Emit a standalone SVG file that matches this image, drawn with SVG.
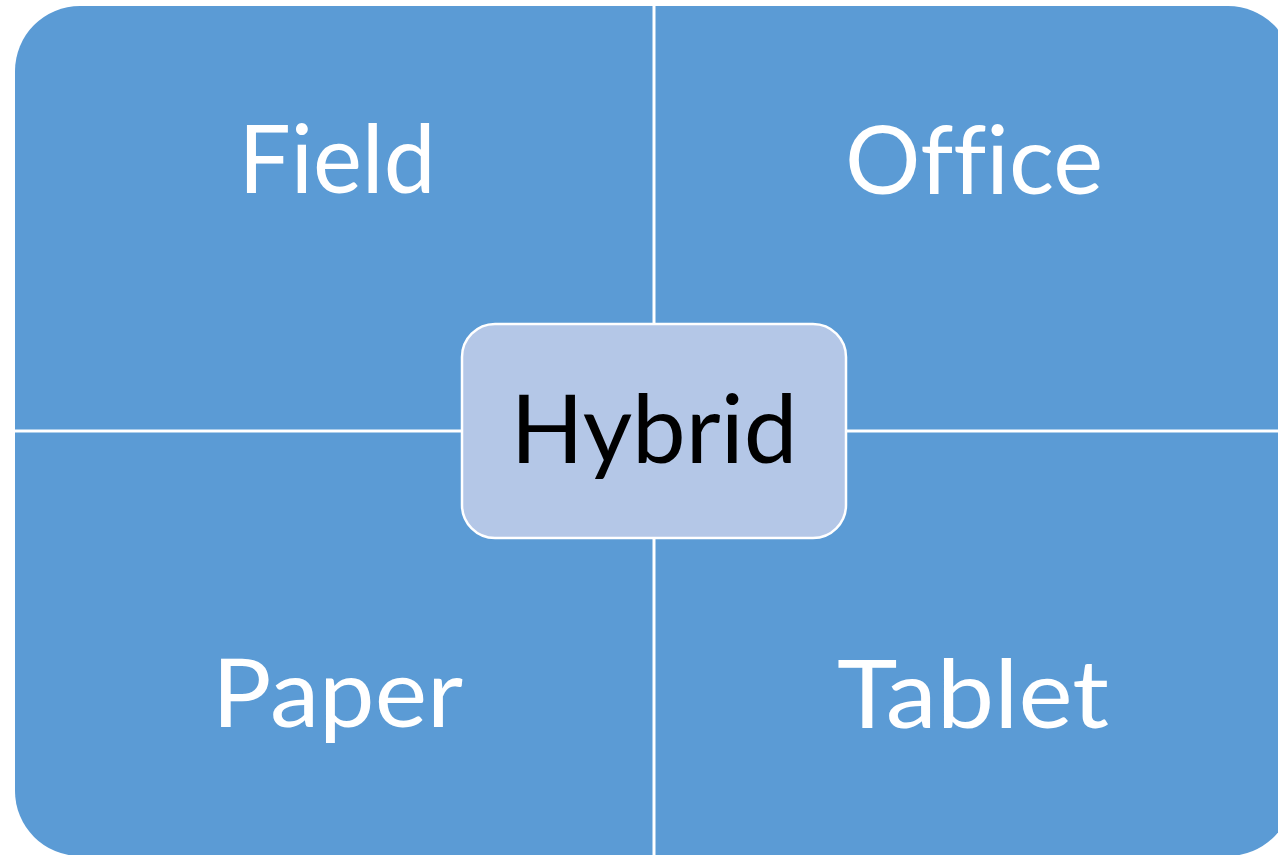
<svg xmlns="http://www.w3.org/2000/svg" width="1278" height="855" viewBox="0 0 1278 855">
  <style>
    .quad { fill: #5B9BD5; }
    .label { font-family: Lato, "Noto Sans", "Liberation Sans", sans-serif; font-size: 95px; fill: #FFFFFF; text-anchor: middle; font-variant-ligatures: none; font-feature-settings: "liga" 0; }
    .hub { fill: #B4C7E7; stroke: #FFFFFF; stroke-width: 2.5; }
    .hub-label { font-family: Lato, "Noto Sans", "Liberation Sans", sans-serif; font-size: 95px; fill: #000000; text-anchor: middle; }
  </style>
  <rect width="1278" height="855" fill="#FFFFFF"/>

  <!-- four quadrants, each rounded on its outer corner -->
  <g id="field">
    <path class="quad" d="M15,71 A65,65 0 0 1 80,6 L652.5,6 L652.5,429.5 L15,429.5 Z"/>
    <text class="label" x="337" y="193" textLength="197" lengthAdjust="spacingAndGlyphs">Field</text>
  </g>
  <g id="office">
    <path class="quad" d="M655.5,6 L1228,6 A65,65 0 0 1 1293,71 L1293,429.5 L655.5,429.5 Z"/>
    <text class="label" x="974" y="194" textLength="258" lengthAdjust="spacingAndGlyphs">Office</text>
  </g>
  <g id="paper">
    <path class="quad" d="M15,432.5 L652.5,432.5 L652.5,856 L80,856 A65,65 0 0 1 15,791 Z"/>
    <text class="label" x="337.5" y="727" textLength="251" lengthAdjust="spacingAndGlyphs">Paper</text>
  </g>
  <g id="tablet">
    <path class="quad" d="M655.5,432.5 L1293,432.5 L1293,791 A65,65 0 0 1 1228,856 L655.5,856 Z"/>
    <text class="label" x="973" y="727.5" textLength="272" lengthAdjust="spacingAndGlyphs">Tablet</text>
  </g>

  <!-- no connectors: the quadrants touch the hub directly -->
  <g id="connectors"></g>

  <g id="hybrid">
    <rect class="hub" x="462" y="324" width="384" height="214" rx="33" ry="33"/>
    <text class="hub-label" x="654" y="463" textLength="287" lengthAdjust="spacingAndGlyphs">Hybrid</text>
  </g>
</svg>
